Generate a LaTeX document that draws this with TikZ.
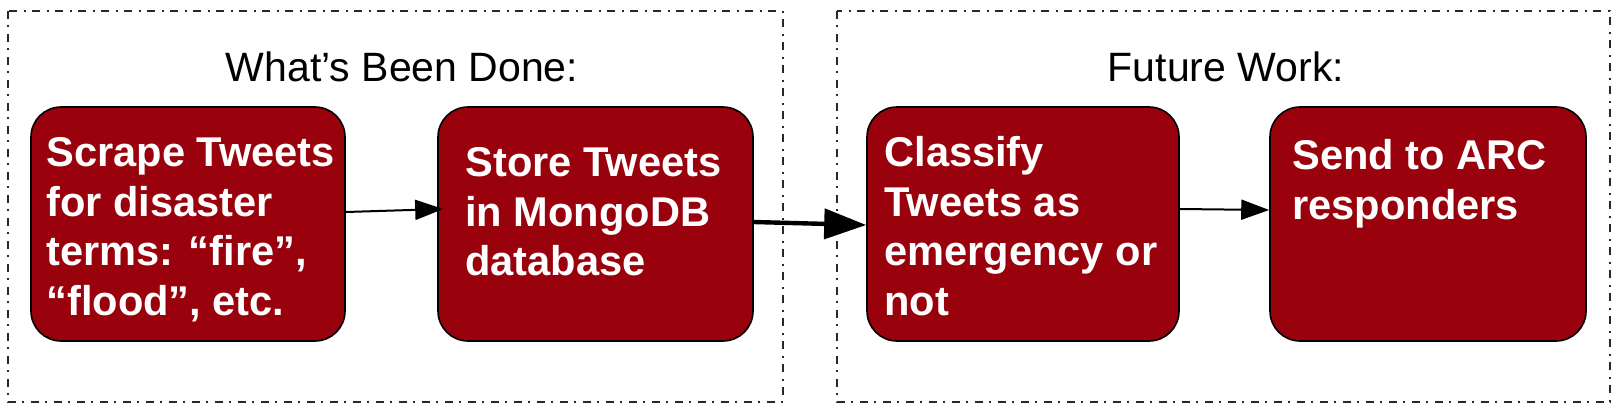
\documentclass[tikz,border=0pt]{standalone}
\usepackage{fontspec}
\setmainfont{Liberation Sans}
\usetikzlibrary{arrows.meta}
\definecolor{boxred}{RGB}{153,2,12}
\definecolor{framegray}{RGB}{40,40,40}
\begin{document}
\begin{tikzpicture}[x=0.5pt,y=-0.5pt,
  stepbox/.style={draw=black, line width=0.8pt, fill=boxred, rounded corners=15pt,
    minimum height=117pt, inner sep=0pt},
  boxtext/.style={anchor=north west, inner sep=0pt, align=left, text=white,
    font=\bfseries\fontsize{20.8}{24.8}\selectfont},
  title/.style={anchor=base, inner sep=0pt, font=\fontsize{20.5}{24}\selectfont},
  frame/.style={draw=framegray, line width=0.8pt,
    dash pattern=on 4pt off 3pt on 1pt off 3.5pt},
  thinarrow/.style={draw=black, line width=1pt, -{Triangle[length=14pt,width=10pt]}},
  thickarrow/.style={draw=black, line width=2.2pt, -{Triangle[length=21pt,width=15pt]}}
]
\useasboundingbox (0,0) rectangle (1620,412);
\draw[frame] (8,11) rectangle (783,402);
\draw[frame] (837,11) rectangle (1610,402);

\node[title] (t1) at (402,81) {What’s Been Done:};
\node[title] (t2) at (1226,81) {Future Work:};

\node[stepbox, minimum width=157pt] (b1) at (188,224) {};
\node[stepbox, minimum width=157.5pt] (b2) at (595.5,224) {};
\node[stepbox, minimum width=156pt] (b3) at (1023,224) {};
\node[stepbox, minimum width=158pt] (b4) at (1428,224) {};

\node[boxtext] (x1) at (46,137) {Scrape Tweets\\for disaster\\terms: “fire”,\\“flood”, etc.};
\node[boxtext] (x2) at (465,147) {Store Tweets\\in MongoDB\\database};
\node[boxtext] (x3) at (884,136) {Classify\\Tweets as\\emergency or\\not};
\node[boxtext] (x4) at (1292,139) {Send to ARC\\responders};

\draw[thinarrow] ([yshift=6pt]b1.east) -- ([yshift=7.5pt,xshift=3pt]b2.west);
\draw[thickarrow] ([yshift=1pt]b2.east) -- ([yshift=-0.5pt]b3.west);
\draw[thinarrow] ([yshift=7.5pt]b3.east) -- ([yshift=7pt]b4.west);
\end{tikzpicture}
\end{document}
